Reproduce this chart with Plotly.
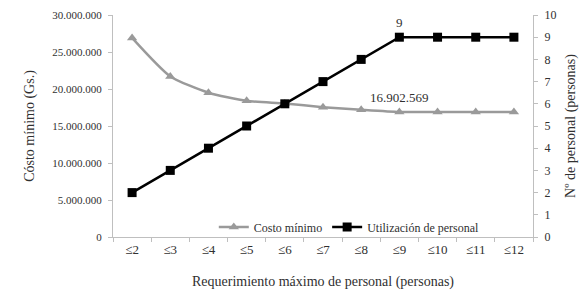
import plotly.graph_objects as go

categories = ["≤2", "≤3", "≤4", "≤5", "≤6", "≤7", "≤8", "≤9", "≤10", "≤11", "≤12"]
costo_minimo = [26900000, 21700000, 19500000, 18400000, 18050000, 17550000, 17200000, 16902569, 16902569, 16902569, 16902569]
utilizacion_personal = [2, 3, 4, 5, 6, 7, 8, 9, 9, 9, 9]
y1_ticks = [0, 5000000, 10000000, 15000000, 20000000, 25000000, 30000000]
y1_ticklabels = ["0", "5.000.000", "10.000.000", "15.000.000", "20.000.000", "25.000.000", "30.000.000"]

font = "Times New Roman, Liberation Serif, DejaVu Serif, serif"
gray = "#9a9a9a"
axis_col = "#bfbfbf"
txt = "#303030"

fig = go.Figure()
fig.add_trace(go.Scatter(
    x=categories, y=costo_minimo, name="Costo mínimo", mode="lines+markers+text",
    line=dict(color=gray, width=2.5, shape="spline", smoothing=0.6),
    marker=dict(symbol="triangle-up", size=9, color=gray),
    text=["" if i != 7 else "16.902.569" for i in range(len(categories))],
    textposition="top center", textfont=dict(family=font, size=13, color=txt),
))
fig.add_trace(go.Scatter(
    x=categories, y=utilizacion_personal, name="Utilización de personal", mode="lines+markers+text",
    yaxis="y2",
    line=dict(color="black", width=2.5),
    marker=dict(symbol="square", size=9, color="black"),
    text=["" if i != 7 else "9" for i in range(len(categories))],
    textposition="top center", textfont=dict(family=font, size=13, color=txt),
))

fig.update_layout(
    width=579, height=291,
    margin=dict(l=113, r=46, t=15, b=54),
    paper_bgcolor="white", plot_bgcolor="white",
    font=dict(family=font, size=12, color=txt),
    showlegend=True,
    legend=dict(orientation="h", x=0.24, y=0.045, xanchor="left", yanchor="middle",
                bgcolor="rgba(255,255,255,0)", font=dict(family=font, size=12, color=txt),
                itemwidth=30, tracegroupgap=0),
    xaxis=dict(type="category", range=[-0.5, 10.5], showline=True, linecolor=axis_col, linewidth=1,
               ticks="outside", tickson="boundaries", ticklen=4, tickcolor=axis_col,
               showgrid=False, zeroline=False, automargin=False,
               tickfont=dict(family=font, size=13, color=txt),
               title=dict(text="Requerimiento máximo de personal (personas)", font=dict(family=font, size=14, color=txt), standoff=20)),
    yaxis=dict(range=[0, 30000000], tickvals=y1_ticks, ticktext=y1_ticklabels,
               showline=True, linecolor=axis_col, linewidth=1, ticks="outside", ticklen=4, tickcolor=axis_col,
               showgrid=False, zeroline=False, automargin=False, ticklabelstandoff=4,
               tickfont=dict(family=font, size=11, color=txt),
               title=dict(text="Cósto mínimo (Gs.)", font=dict(family=font, size=14, color=txt), standoff=14)),
    yaxis2=dict(range=[0, 10], dtick=1, overlaying="y", side="right",
                showline=True, linecolor=axis_col, linewidth=1, ticks="outside", ticklen=4, tickcolor=axis_col,
                showgrid=False, zeroline=False, automargin=False, ticklabelstandoff=4,
                tickfont=dict(family=font, size=12, color=txt),
                title=dict(text="Nº de personal (personas)", font=dict(family=font, size=14, color=txt), standoff=10)),
)

fig.write_html("out.html", config={"displayModeBar": False},
               post_script="document.body.style.margin='0';document.body.style.overflow='hidden';")
